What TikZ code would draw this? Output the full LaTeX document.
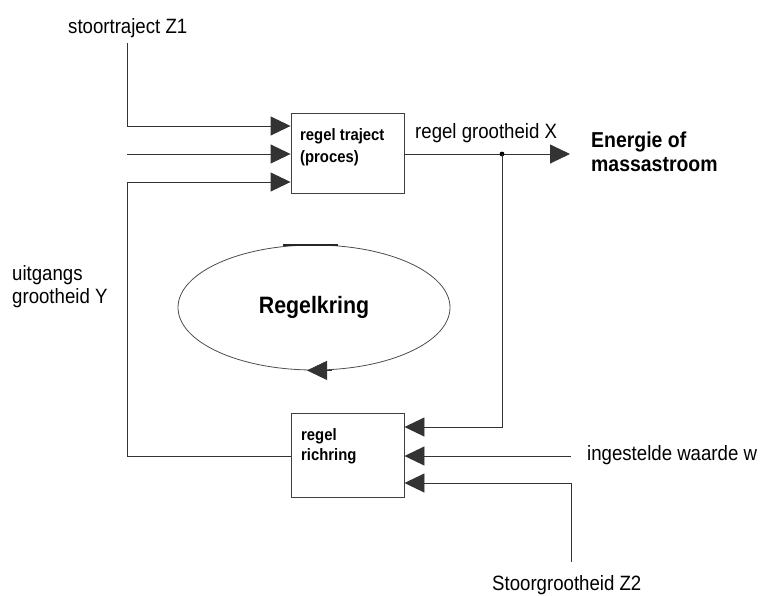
\documentclass[tikz,border=0pt]{standalone}
\usepackage{fontspec}
\setmainfont{Liberation Sans}[FakeStretch=0.9]
\usetikzlibrary{arrows.meta,shapes.geometric}
\begin{document}
\begin{tikzpicture}[x=1pt,y=-1pt,
  wire/.style={draw=black!80,line width=0.9pt},
  arr/.style={wire,-{Triangle[length=20pt,width=19pt]}},
  blockbox/.style={draw=black!75,line width=0.9pt,minimum width=113pt,minimum height=80pt,inner sep=0pt},
  lbl/.style={anchor=base west,inner sep=0pt,font=\fontsize{20.7}{24}\selectfont},
  boldlbl/.style={anchor=base west,inner sep=0pt,font=\fontsize{21.6}{24}\selectfont\bfseries},
  boxlbl/.style={anchor=base west,inner sep=0pt,font=\fontsize{16.5}{20}\selectfont\bfseries}]
\useasboundingbox (0,0) rectangle (763,595);

% blocks
\node[blockbox] (proc) at (347.5,153) {};
\node[blockbox,minimum height=84pt] (ctrl) at (347.5,455) {};
\node[boxlbl] (proct1) at (300,140) {regel traject};
\node[boxlbl] (proct2) at (300,162) {(proces)};
\node[boxlbl] (ctrlt1) at (301,440) {regel};
\node[boxlbl] (ctrlt2) at (301,460) {richring};

% control loop symbol
\node[draw=black!70,line width=0.8pt,ellipse,minimum width=272pt,minimum height=125pt,inner sep=0pt,
      font=\fontsize{23.7}{26}\selectfont\bfseries] (loop) at (314,307.5) {Regelkring};
\draw[line width=1.8pt,black!85] ([xshift=-31pt]loop.north) -- ([xshift=24pt]loop.north);
\draw[arr] ([xshift=18pt]loop.south) -- ([xshift=-7pt]loop.south);

% text labels
\node[lbl] (z1) at (68,33) {stoortraject Z1};
\node[lbl] (xlbl) at (415,138) {regel grootheid X};
\node[boldlbl] (out1) at (591,147) {Energie of};
\node[boldlbl] (out2) at (591,171) {massastroom};
\node[lbl] (y1) at (12,280) {uitgangs};
\node[lbl] (y2) at (12,303) {grootheid Y};
\node[lbl] (w) at (587,460) {ingestelde waarde w};
\node[lbl] (z2) at (492,590) {Stoorgrootheid Z2};

% helper points
\coordinate (z1top) at (127,43);
\coordinate (z1in) at (127,126);
\coordinate (min) at (127,154);
\coordinate (yin) at (127,182);
\coordinate (yout) at (127,456);
\coordinate (tap) at (502,154);
\coordinate (outend) at (570,154);
\coordinate (fb) at (502,427);
\coordinate (wend) at (571,456);
\coordinate (z2bot) at (571,562);
\coordinate (z2in) at (571,483);

% inputs of the process
\draw[arr] (z1top) -- (z1in) -- (proc.west |- z1in);
\draw[arr] (min) -- (proc.west |- min);
\draw[arr] (ctrl.west |- yout) -- (yout) -- (yin) -- (proc.west |- yin);

% output and feedback
\draw[arr] (proc.east |- tap) -- (outend);
\fill[black] (tap) circle (2.4pt);
\draw[arr] (tap) -- (fb) -- (ctrl.east |- fb);
\draw[arr] (wend) -- (ctrl.east |- wend);
\draw[arr] (z2bot) -- (z2in) -- (ctrl.east |- z2in);
\end{tikzpicture}
\end{document}
